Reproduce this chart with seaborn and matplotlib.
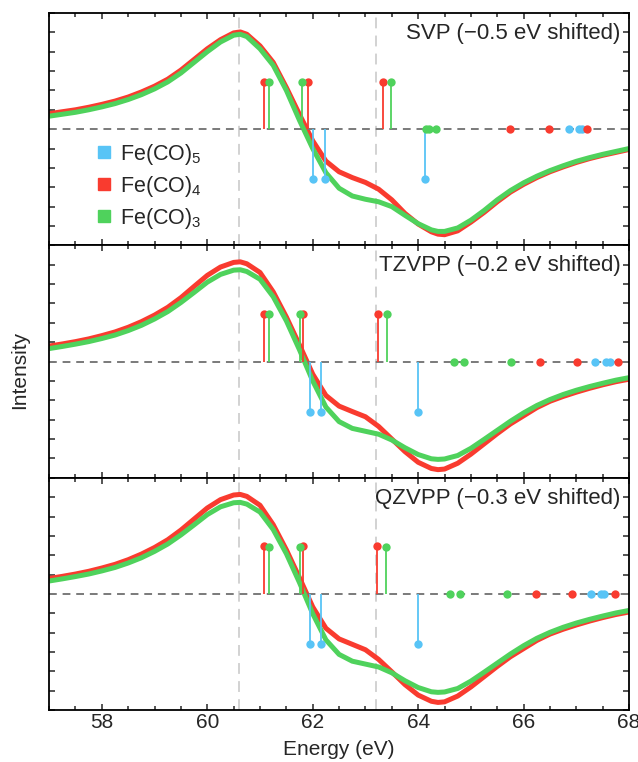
import pandas as pd
import matplotlib.pyplot as plt
import seaborn as sns
from matplotlib.lines import Line2D
from matplotlib.ticker import MultipleLocator

sns.set_theme(style="ticks")
plt.rcParams['font.family'] = ['Liberation Sans', 'DejaVu Sans']
plt.rcParams['mathtext.default'] = 'regular'
plt.rcParams['axes.unicode_minus'] = True
plt.rcParams['lines.solid_joinstyle'] = 'round'
plt.rcParams['lines.solid_capstyle'] = 'butt'

# colours of the three species
BLUE = '#58C4F6'
RED = '#F93B2F'
GREEN = '#4FD25C'

species = ['Fe(CO)$_5$', 'Fe(CO)$_4$', 'Fe(CO)$_3$']
panel_labels = ['SVP (\u22120.5 eV shifted)', 'TZVPP (\u22120.2 eV shifted)',
                'QZVPP (\u22120.3 eV shifted)']
ref_lines = [60.6, 63.2]

# energy grid the curves were read on
energy = [57.0, 57.25, 57.5, 57.75, 58.0, 58.25, 58.5, 58.75, 59.0, 59.25,
          59.5, 59.75, 60.0, 60.25, 60.5, 60.625, 60.75, 61.0, 61.25, 61.5,
          61.75, 62.0, 62.25, 62.5, 62.75, 63.0, 63.25, 63.5, 63.75, 64.0,
          64.25, 64.375, 64.5, 64.75, 65.0, 65.25, 65.5, 65.75, 66.0, 66.25,
          66.5, 66.75, 67.0, 67.25, 67.5, 67.75, 68.0]

# broadened spectra (Fe(CO)4 red, Fe(CO)3 green)
svp_red = [0.80, 0.90, 1.00, 1.13, 1.28, 1.45, 1.66, 1.92, 2.22, 2.58,
           3.05, 3.60, 4.15, 4.62, 4.97, 5.02, 4.90, 4.30, 3.45, 2.15,
           0.75, -0.60, -1.65, -2.20, -2.50, -2.75, -3.10, -3.65, -4.35, -4.90,
           -5.30, -5.42, -5.45, -5.25, -4.80, -4.30, -3.75, -3.25, -2.85, -2.50,
           -2.20, -1.95, -1.72, -1.52, -1.35, -1.20, -1.05]
svp_green = [0.67, 0.77, 0.87, 1.00, 1.15, 1.32, 1.53, 1.78, 2.08, 2.44,
             2.90, 3.45, 4.00, 4.50, 4.85, 4.90, 4.78, 4.15, 3.30, 2.00,
             0.45, -1.00, -2.25, -3.05, -3.45, -3.62, -3.75, -4.00, -4.45, -4.88,
             -5.20, -5.28, -5.28, -5.10, -4.70, -4.20, -3.65, -3.17, -2.77, -2.43,
             -2.14, -1.89, -1.66, -1.47, -1.30, -1.15, -1.00]

tz_red = [0.80, 0.91, 1.03, 1.17, 1.34, 1.53, 1.77, 2.06, 2.40, 2.80,
          3.30, 3.88, 4.45, 4.88, 5.12, 5.15, 5.05, 4.60, 3.60, 2.30,
          0.85, -0.65, -1.75, -2.30, -2.58, -2.85, -3.35, -4.00, -4.65, -5.20,
          -5.52, -5.58, -5.55, -5.25, -4.78, -4.25, -3.72, -3.22, -2.80, -2.38,
          -2.05, -1.80, -1.58, -1.38, -1.20, -1.04, -0.91]
tz_green = [0.67, 0.78, 0.90, 1.03, 1.19, 1.37, 1.60, 1.87, 2.20, 2.58,
            3.05, 3.57, 4.10, 4.50, 4.72, 4.74, 4.65, 4.25, 3.35, 2.10,
            0.60, -1.00, -2.35, -3.10, -3.45, -3.60, -3.75, -4.05, -4.45, -4.80,
            -5.02, -5.05, -5.03, -4.85, -4.48, -4.02, -3.55, -3.08, -2.65, -2.27,
            -1.96, -1.70, -1.48, -1.29, -1.12, -0.96, -0.83]

qz_red = [0.80, 0.91, 1.03, 1.17, 1.34, 1.53, 1.77, 2.06, 2.40, 2.80,
          3.30, 3.87, 4.44, 4.87, 5.11, 5.14, 5.04, 4.58, 3.58, 2.28,
          0.83, -0.67, -1.77, -2.32, -2.60, -2.88, -3.38, -4.02, -4.68, -5.22,
          -5.54, -5.60, -5.57, -5.27, -4.80, -4.27, -3.74, -3.24, -2.82, -2.40,
          -2.07, -1.82, -1.60, -1.40, -1.22, -1.06, -0.93]
qz_green = [0.67, 0.78, 0.90, 1.03, 1.19, 1.37, 1.60, 1.87, 2.20, 2.58,
            3.05, 3.57, 4.10, 4.50, 4.71, 4.73, 4.64, 4.23, 3.33, 2.08,
            0.58, -1.02, -2.37, -3.12, -3.47, -3.62, -3.77, -4.07, -4.48, -4.83,
            -5.05, -5.08, -5.06, -4.88, -4.50, -4.04, -3.57, -3.10, -2.67, -2.29,
            -1.98, -1.72, -1.50, -1.31, -1.14, -0.98, -0.85]

# stick spectra: energies and intensities per species
svp_blue_e = [62.01, 62.23, 64.13, 66.87, 67.05, 67.11]
svp_blue_i = [-2.59, -2.59, -2.59, 0, 0, 0]
svp_red_e = [61.08, 61.91, 63.33, 65.75, 66.48, 67.20]
svp_red_i = [2.45, 2.45, 2.45, 0, 0, 0]
svp_green_e = [61.17, 61.79, 63.48, 64.14, 64.20, 64.34]
svp_green_i = [2.41, 2.41, 2.41, 0, 0, 0]

tz_blue_e = [61.95, 62.16, 64.00, 67.35, 67.56, 67.63]
tz_blue_i = [-2.62, -2.62, -2.62, 0, 0, 0]
tz_red_e = [61.07, 61.82, 63.23, 66.31, 67.01, 67.79]
tz_red_i = [2.48, 2.48, 2.48, 0, 0, 0]
tz_green_e = [61.17, 61.75, 63.41, 64.67, 64.86, 65.77]
tz_green_i = [2.45, 2.45, 2.45, 0, 0, 0]

qz_blue_e = [61.95, 62.16, 63.99, 67.27, 67.46, 67.53]
qz_blue_i = [-2.60, -2.60, -2.60, 0, 0, 0]
qz_red_e = [61.08, 61.81, 63.21, 66.24, 66.92, 67.73]
qz_red_i = [2.48, 2.48, 2.48, 0, 0, 0]
qz_green_e = [61.17, 61.75, 63.39, 64.61, 64.80, 65.68]
qz_green_i = [2.45, 2.45, 2.45, 0, 0, 0]

panels = [
    (svp_red, svp_green, [(svp_blue_e, svp_blue_i), (svp_red_e, svp_red_i), (svp_green_e, svp_green_i)]),
    (tz_red, tz_green, [(tz_blue_e, tz_blue_i), (tz_red_e, tz_red_i), (tz_green_e, tz_green_i)]),
    (qz_red, qz_green, [(qz_blue_e, qz_blue_i), (qz_red_e, qz_red_i), (qz_green_e, qz_green_i)]),
]
stick_colors = [BLUE, RED, GREEN]

fig, axes = plt.subplots(3, 1, sharex=True, figsize=(6.38, 7.62), dpi=100)
fig.subplots_adjust(left=0.077, right=0.986, top=0.983, bottom=0.068, hspace=0)

for ax, label, (red, green, sticks) in zip(axes, panel_labels, panels):
    ax.set_axisbelow(True)
    for x0 in ref_lines:
        ax.axvline(x0, color='#cfcfcf', lw=1.3, dashes=(6, 4), zorder=1)

    df = pd.DataFrame({
        'energy': energy * 2,
        'intensity': red + green,
        'species': ['Fe(CO)4'] * len(energy) + ['Fe(CO)3'] * len(energy),
    })
    sns.lineplot(data=df, x='energy', y='intensity', hue='species',
                 palette={'Fe(CO)4': RED, 'Fe(CO)3': GREEN}, lw=3.6,
                 legend=False, ax=ax, zorder=2,
                 solid_joinstyle='round', solid_capstyle='butt')

    ax.axhline(0, color='#7a7a7a', lw=1.4, dashes=(4, 3), zorder=3)

    for (se, si), c in zip(sticks, stick_colors):
        ax.vlines(se, 0, si, color=c, lw=1.3, zorder=4)
        sns.scatterplot(x=se, y=si, color=c, s=36, linewidth=0, zorder=5, ax=ax)

    ax.text(0.985, 0.958, label, transform=ax.transAxes, ha='right', va='top',
            fontsize=16)

    ax.set_xlim(57, 68)
    ax.set_ylim(-6, 6)
    ax.xaxis.set_major_locator(MultipleLocator(2))
    ax.xaxis.set_minor_locator(MultipleLocator(0.5))
    ax.yaxis.set_major_locator(MultipleLocator(1))
    ax.tick_params(which='both', direction='in', top=True, right=True,
                   width=1.1, labelleft=False)
    ax.tick_params(which='major', length=4)
    ax.tick_params(which='minor', length=3)
    ax.set_ylabel('')
    ax.set_xlabel('')
    for sp in ax.spines.values():
        sp.set_linewidth(1.3)
        sp.set_color('black')
        sp.set_zorder(6)

axes[-1].tick_params(axis='x', labelsize=15, pad=2)
axes[-1].set_xlabel('Energy (eV)', fontsize=15, labelpad=6)
fig.text(0.031, 0.514, 'Intensity', rotation=90, ha='center', va='center',
         fontsize=15)

handles = [Line2D([], [], marker='s', ls='', color=c, markersize=8)
           for c in stick_colors]
axes[0].legend(handles, species, loc='upper left', bbox_to_anchor=(0.082, 0.445),
               frameon=False, fontsize=15.5, handlelength=0.7, handletextpad=0.4,
               labelspacing=0.32, borderaxespad=0, borderpad=0)

fig.savefig('out.png', dpi=100)
